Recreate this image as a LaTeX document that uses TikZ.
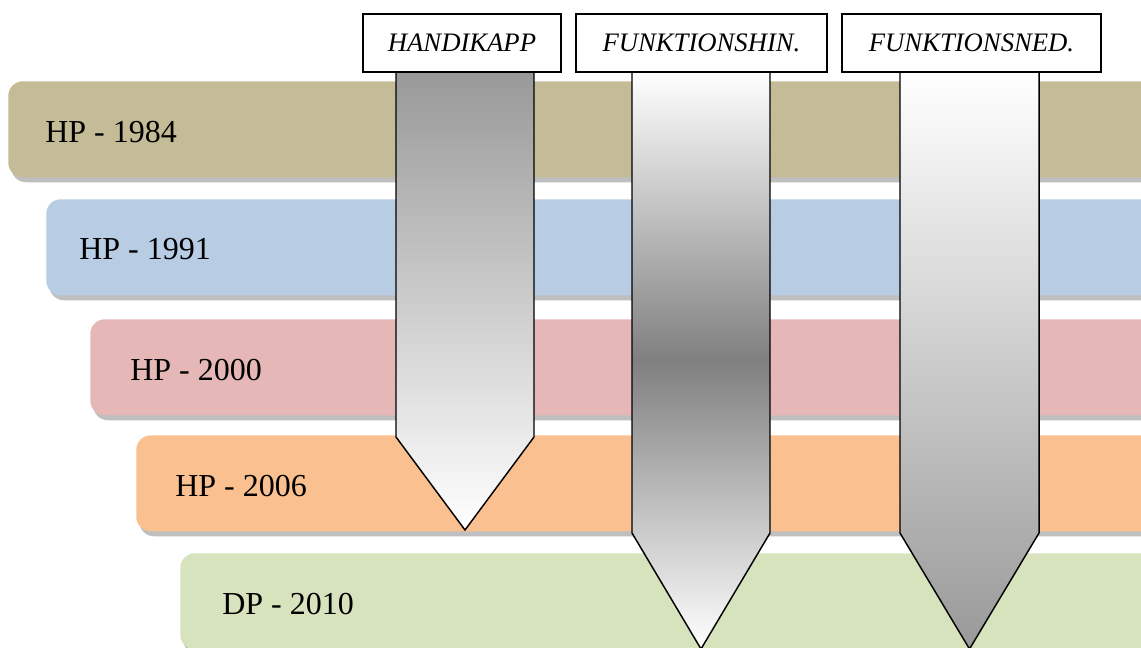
\documentclass[tikz,border=0pt]{standalone}
\usepackage{fontspec}
\setmainfont{Liberation Serif}
\usetikzlibrary{shadows,positioning}

\definecolor{tan84}{HTML}{C4BC96}
\definecolor{blue91}{HTML}{B8CCE4}
\definecolor{rose00}{HTML}{E5B8B7}
\definecolor{orange06}{HTML}{FAC08F}
\definecolor{olive10}{HTML}{D7E3BC}

\begin{document}
\begin{tikzpicture}[
    x=0.75pt, y=-0.75pt,
    bar/.style={rectangle, rounded corners=11pt, minimum width=900pt, minimum height=72pt, anchor=north west,
        drop shadow={shadow xshift=2.25pt, shadow yshift=-3.75pt, fill=black!25, opacity=1}},
    year/.style={inner sep=0pt, font=\fontsize{24pt}{28pt}\selectfont},
    tag/.style={rectangle, draw, line width=1.1pt, fill=white, inner sep=0pt, minimum height=43.5pt, font=\fontsize{20pt}{24pt}\selectfont\itshape},
    pointer/.style={draw, line width=1.1pt}
]
\clip (0,0) rectangle (1141,648);

% Plan bars
\node[bar, fill=tan84] (b1984) at (8,81) {};
\node[bar, fill=blue91] (b1991) at (46,199) {};
\node[bar, fill=rose00] (b2000) at (90,319) {};
\node[bar, fill=orange06] (b2006) at (136,435) {};
\node[bar, fill=olive10] (b2010) at (180,553) {};

% Bar labels
\node[year, right=27.75pt of b1984.west, yshift=-2pt] {HP - 1984};
\node[year, right=24.75pt of b1991.west, yshift=-1pt] {HP - 1991};
\node[year, right=30pt of b2000.west, yshift=-2pt] {HP - 2000};
\node[year, right=29.25pt of b2006.west, yshift=-2pt] {HP - 2006};
\node[year, right=31.5pt of b2010.west, yshift=-2pt] {DP - 2010};

% Pointers
\shade[pointer, top color=black!40, bottom color=white]
    (396,72) -- (534,72) -- (534,437) -- (465,530) -- (396,437) -- cycle;
\shade[pointer, top color=white, bottom color=white, middle color=black!50]
    (632,72) -- (770,72) -- (770,533) -- (701,649) -- (632,533) -- cycle;
\shade[pointer, top color=white, bottom color=black!40]
    (900,72) -- (1039,72) -- (1039,533) -- (969.5,649) -- (900,533) -- cycle;

% Tags
\node[tag, minimum width=148.5pt] (handikapp) at (462,43) {HANDIKAPP};
\node[tag, minimum width=188.25pt] (hin) at (701.5,43) {FUNKTIONSHIN.};
\node[tag, minimum width=194.25pt] (ned) at (971.5,43) {FUNKTIONSNED.};
\end{tikzpicture}
\end{document}
